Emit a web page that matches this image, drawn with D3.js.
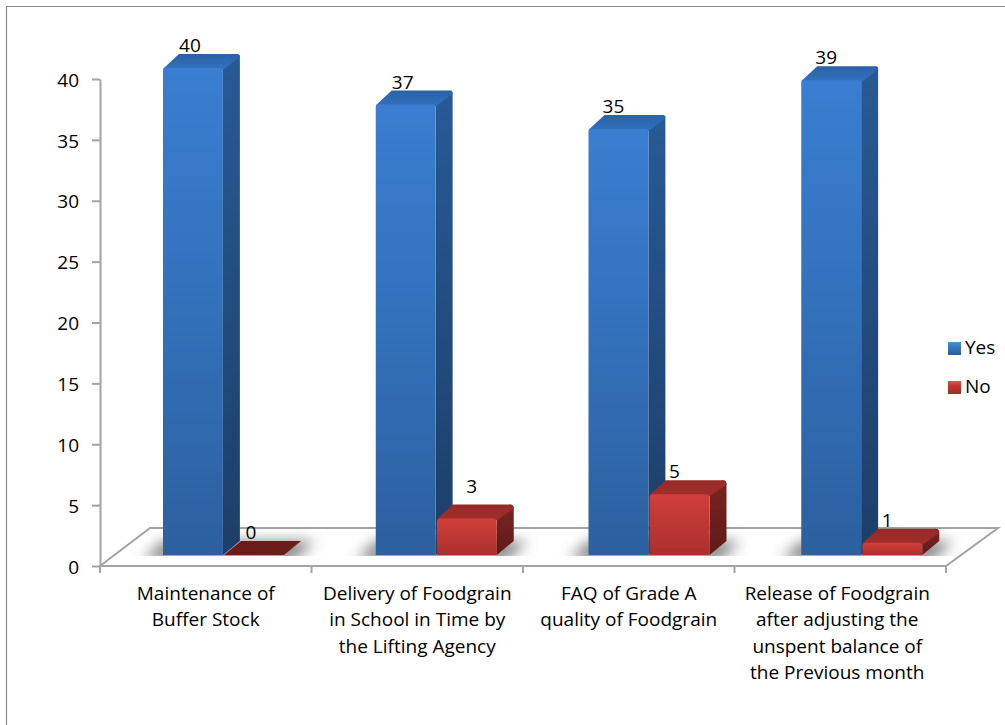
<!DOCTYPE html>
<html><head><meta charset="utf-8">
<script src="https://cdn.jsdelivr.net/npm/d3@7/dist/d3.min.js"></script>
<style>html,body{margin:0;padding:0;background:#fff}svg{display:block}text{font-family:"Open Sans",sans-serif;fill:#000}</style>
</head><body><svg id="c" width="1005" height="725"></svg>
<script>
const categories=[
 ["Maintenance of","Buffer Stock"],
 ["Delivery of Foodgrain","in School in Time by","the Lifting Agency"],
 ["FAQ of Grade A","quality of Foodgrain"],
 ["Release of Foodgrain","after adjusting the","unspent balance of","the Previous month"]];
const seriesNames=["Yes","No"];
const yesValues=[40,37,35,39];
const noValues=[0,3,5,1];
const yTicks=[0,5,10,15,20,25,30,35,40];

const svg=d3.select("#c"),defs=svg.append("defs");
const axisLeft=100,axisRight=946,axisBase=566,axisTop=79;
const depthX=17,depthY=14,floorLift=11;
const floorX=50,floorY=38;
const x0=d3.scaleBand().domain(d3.range(categories.length)).range([axisLeft,axisRight]);
const barGroup=d3.scaleBand().domain(d3.range(categories.length)).range([axisLeft,axisLeft+851]);
const x1=d3.scaleBand().domain(seriesNames).range([63,184]).paddingInner(0.02);
const y=d3.scaleLinear().domain([0,40]).range([axisBase,axisTop]);
const fs=19;

function grad(id,stops){const g=defs.append("linearGradient").attr("id",id).attr("x1",0).attr("y1",0).attr("x2",0).attr("y2",1);
 stops.forEach(s=>g.append("stop").attr("offset",s[0]).attr("stop-color",s[1]));}
grad("yesFront",[[0,"#3a7ed1"],[0.5,"#3270ba"],[1,"#2c609f"]]);
grad("yesSide",[[0,"#285a96"],[1,"#1d3e68"]]);
grad("yesTop",[[0,"#2b62a6"],[1,"#3272c0"]]);
grad("noFront",[[0,"#d13f3a"],[0.3,"#c53a36"],[1,"#ab2f2c"]]);
grad("noSide",[[0,"#7c2522"],[1,"#5e1a18"]]);
grad("noTop",[[0,"#952a27"],[1,"#a42e2b"]]);
grad("yesLeg",[[0,"#4a90dc"],[0.35,"#3a78c4"],[1,"#2a5c9a"]]);
grad("noLeg",[[0,"#dd5550"],[0.35,"#c43632"],[1,"#a02a27"]]);
const blur=defs.append("filter").attr("id","sh").attr("x","-20%").attr("y","-100%").attr("width","140%").attr("height","300%");
blur.append("feGaussianBlur").attr("stdDeviation",7);
defs.append("clipPath").attr("id","floorClip").append("rect").attr("x",0).attr("y",0).attr("width",1005).attr("height",axisBase-floorLift+1);

svg.append("path").attr("d","M6.5,725V6.5H1005").attr("fill","none").attr("stroke","#8c8c8c").attr("stroke-width",1.2);

const gray="#a3a3a3";
const floorBack=axisBase-floorY;
svg.append("path").attr("d",`M${axisLeft},${axisBase}L${axisLeft+floorX},${floorBack}H${axisRight+floorX+2}L${axisRight},${axisBase}Z`)
 .attr("fill","#fff").attr("stroke",gray).attr("stroke-width",2);

const yAxis=d3.axisLeft(y).tickValues(yTicks).tickSize(8).tickSizeOuter(0).tickPadding(13);
const gy=svg.append("g").attr("transform",`translate(${axisLeft},0)`).call(yAxis);
gy.selectAll("path,line").attr("stroke",gray).attr("stroke-width",2);
gy.selectAll("text").attr("font-size",fs).attr("dy","0.38em").style("font-family",'"Open Sans",sans-serif').attr("fill","#000");

const xTicks=d3.range(categories.length+1).map(i=>i<categories.length?x0(i):axisRight);
svg.selectAll(".xt").data(xTicks).join("line").attr("x1",d=>d).attr("x2",d=>d).attr("y1",axisBase).attr("y2",axisBase+7).attr("stroke",gray).attr("stroke-width",2);

const labelNudge=[0,0,0,-3];
categories.forEach((lines,i)=>{
 const t=svg.append("text").attr("text-anchor","middle").attr("font-size",fs);
 lines.forEach((l,j)=>t.append("tspan").attr("x",x0(i)+x0.bandwidth()/2+labelNudge[i]).attr("y",600+j*26.3).text(l));
});

const base=axisBase-floorLift;
function drawBar(i,s,v){
 const k=s==="Yes"?"yes":"no";
 const xl=barGroup(i)+x1(s),w=x1.bandwidth();
 const xr=xl+w;
 const yt=y(v)-floorLift;
 const g=svg.append("g");
 const r=v>0?(s==="No"?4:3):0;
 if(v>0){
  g.append("path").attr("d",`M${xr},${yt}L${xr+depthX-r},${yt-depthY}Q${xr+depthX},${yt-depthY} ${xr+depthX},${yt-depthY+r}V${base-depthY}L${xr},${base}Z`).attr("fill",`url(#${k}Side)`);
  g.append("path").attr("d",`M${xl},${yt+2}Q${xl},${yt} ${xl+2},${yt-1}L${xl+depthX-1},${yt-depthY}H${xr+depthX-r}Q${xr+depthX},${yt-depthY} ${xr+depthX},${yt-depthY+r}L${xr},${yt+2}Z`).attr("fill",`url(#${k}Top)`);
  g.append("path").attr("d",`M${xl},${base}V${yt+r}Q${xl},${yt} ${xl+r},${yt}H${xr-r}Q${xr},${yt} ${xr},${yt+r}V${base}Z`).attr("fill",`url(#${k}Front)`);
 } else {
  g.append("path").attr("d",`M${xl},${base}L${xl+depthX},${base-depthY}H${xr+depthX}L${xr},${base}Z`).attr("fill","#6b1c18");
 }
}
function drawShadow(i){
 const xl=barGroup(i)+x1("Yes")-20,xr=barGroup(i)+x1("No")+x1.bandwidth()+depthX+14;
 svg.append("g").attr("clip-path","url(#floorClip)").append("path")
  .attr("d",`M${xl},${base+5}L${xl+20},${base-14}H${xr}L${xr-20},${base+5}Z`).attr("fill","#666").attr("opacity",0.8).attr("filter","url(#sh)");
}
categories.forEach((c,i)=>drawShadow(i));
categories.forEach((c,i)=>{drawBar(i,"Yes",yesValues[i]);drawBar(i,"No",noValues[i]);});

function valueLabel(i,s,v,dx,dy){
 svg.append("text").attr("text-anchor","middle").attr("font-size",fs)
  .attr("x",barGroup(i)+x1(s)+x1.bandwidth()/2+dx)
  .attr("y",y(v)-floorLift-depthY-2+dy).text(v);
}
yesValues.forEach((v,i)=>valueLabel(i,"Yes",v,-3-(i>1?2:0),0));
const noDx=[-3,5,-5,-5],noDy=[0,-9,0,0];
noValues.forEach((v,i)=>valueLabel(i,"No",v,noDx[i],noDy[i]));

const legY=d3.scalePoint().domain(seriesNames).range([348,387]);
seriesNames.forEach(s=>{
 const k=s==="Yes"?"yes":"no";
 svg.append("rect").attr("x",948).attr("y",legY(s)-6).attr("width",13).attr("height",13).attr("fill",`url(#${k}Leg)`);
 svg.append("text").attr("x",965).attr("y",legY(s)+6).attr("font-size",fs).text(s);
});
</script></body></html>
